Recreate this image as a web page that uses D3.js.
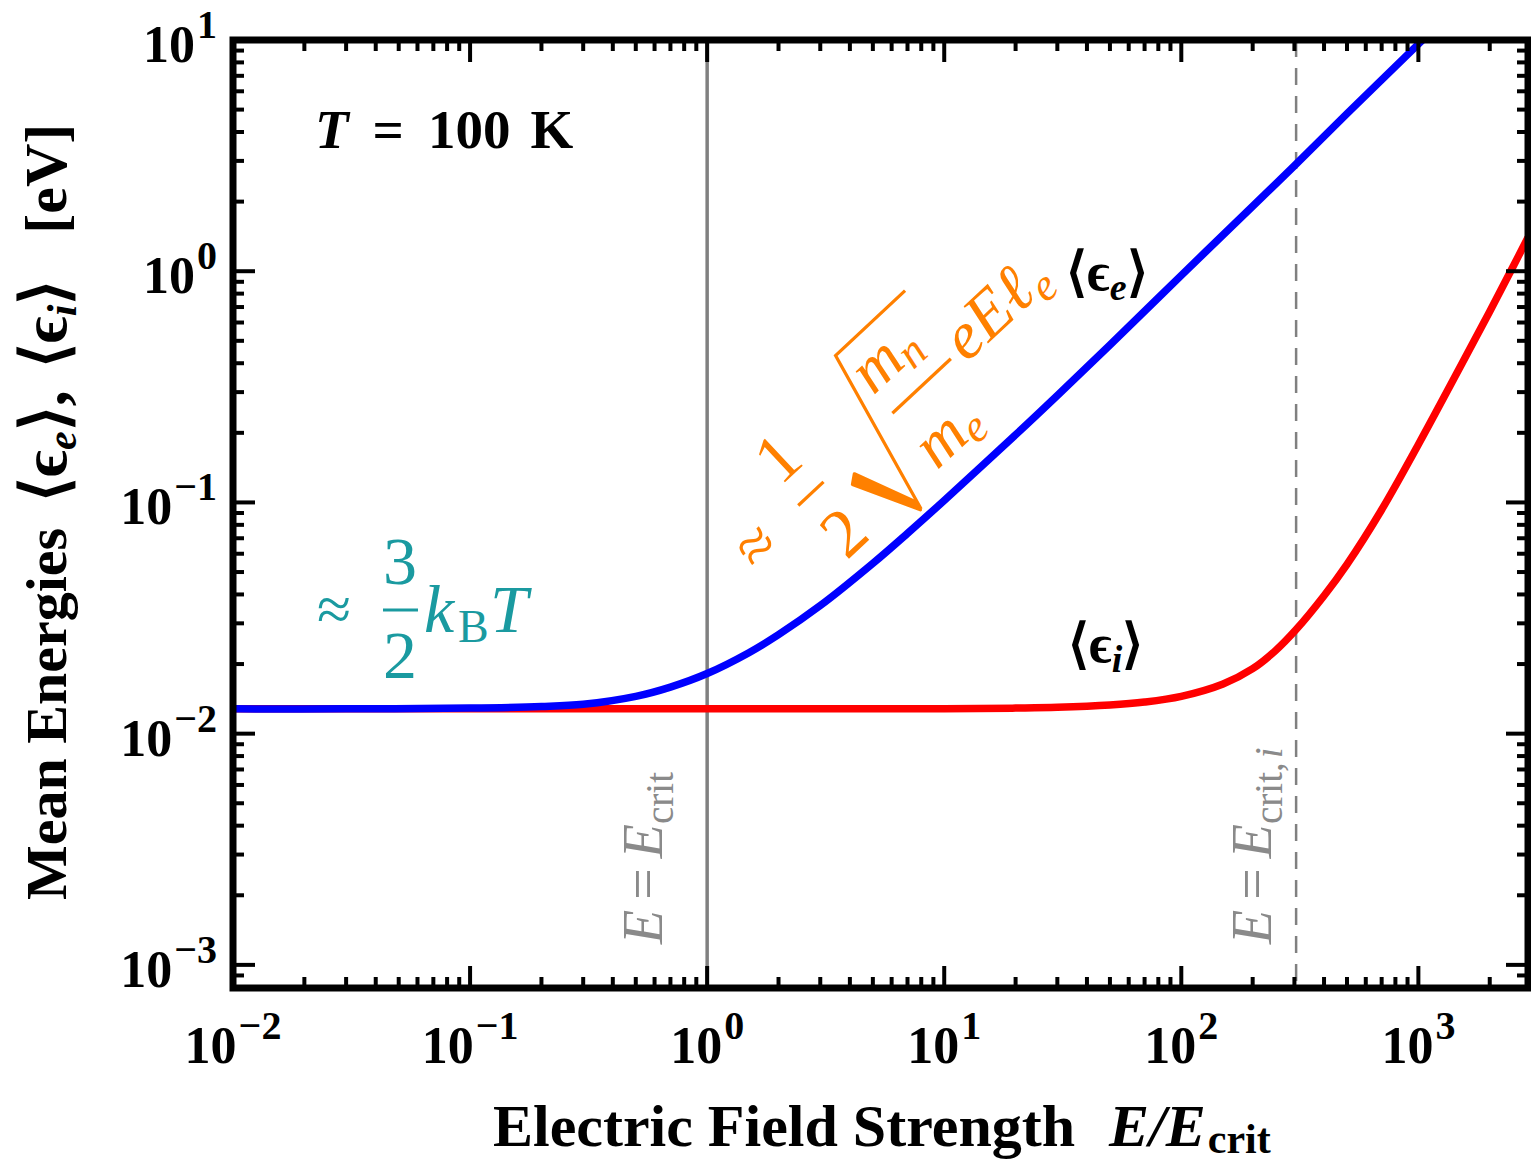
<!DOCTYPE html>
<html>
<head>
<meta charset="utf-8">
<script src="https://cdn.jsdelivr.net/npm/d3@7"></script>
<style>
  body { margin: 0; background: #fff; }
  text { font-family: "Liberation Serif", "Times New Roman", serif; }
</style>
</head>
<body>
<script>
// mean electron energy <eps_e> vs E/Ecrit
var electronField = [0.01, 0.03, 0.1, 0.2, 0.3, 0.5, 0.7, 1, 1.5, 2, 3, 5, 7, 10, 20, 30, 50, 100, 200, 300, 500, 1000, 1100];
var electronEnergy = [0.0128, 0.0128, 0.0129, 0.0131, 0.0134, 0.0145, 0.0159, 0.0182, 0.0224, 0.0268, 0.0358, 0.0545, 0.0735, 0.102, 0.196, 0.29, 0.48, 0.96, 1.91, 2.86, 4.8, 9.6, 10.55];

// mean ion energy <eps_i>
var ionField = [0.01, 1, 10, 20, 30, 50, 70, 100, 150, 200, 250, 305, 400, 500, 700, 1000, 1500, 2000, 2500, 2900];
var ionEnergy = [0.0128, 0.0128, 0.0128, 0.0129, 0.013, 0.0133, 0.0137, 0.0145, 0.0164, 0.0191, 0.0229, 0.0282, 0.0395, 0.054, 0.093, 0.178, 0.385, 0.67, 1.04, 1.40];

var xTickExp = [-2, -1, 0, 1, 2, 3];
var yTickExp = [-3, -2, -1, 0, 1];
var eCrit = 1, eCritIon = 305;

var width = 1531, height = 1162;
var pL = 233, pR = 1528, pT = 40, pB = 988;

var svg = d3.select('body').append('svg')
  .attr('width', width)
  .attr('height', height);

var x = d3.scaleLog().domain([0.01, 2900]).range([pL, pR]);
var y = d3.scaleLog().domain([Math.pow(10, -3.1), 10]).range([pB, pT]);

svg.append('clipPath').attr('id', 'plot')
  .append('rect').attr('x', pL).attr('y', pT)
  .attr('width', pR - pL).attr('height', pB - pT);

// reference lines
svg.append('line')
  .attr('x1', x(eCrit)).attr('x2', x(eCrit))
  .attr('y1', pT).attr('y2', pB)
  .attr('stroke', '#808080').attr('stroke-width', 3.5);

svg.append('line')
  .attr('x1', x(eCritIon)).attr('x2', x(eCritIon))
  .attr('y1', pT).attr('y2', pB)
  .attr('stroke', '#808080').attr('stroke-width', 2.5)
  .attr('stroke-dasharray', '17,11');

function critLabel(xpos, ion) {
  var t = svg.append('text')
    .attr('transform', 'translate(' + xpos + ',' + 944 + ') rotate(-90)')
    .attr('fill', '#8a8a8a')
    .attr('font-size', 56);
  t.append('tspan').attr('font-style', 'italic').text('E');
  t.append('tspan').attr('dx', 10).text('=');
  t.append('tspan').attr('dx', 10).attr('font-style', 'italic').text('E');
  t.append('tspan').attr('font-size', 39).attr('dy', 11).text(ion ? 'crit,' : 'crit');
  if (ion) t.append('tspan').attr('font-size', 39).attr('dx', 4).attr('font-style', 'italic').text('i');
}
critLabel(x(eCrit) - 45, false);
critLabel(x(eCritIon) - 25, true);

// curves
var line = d3.line()
  .x(function(d) { return x(d[0]); })
  .y(function(d) { return y(d[1]); })
  .curve(d3.curveCatmullRom.alpha(0.5));

var curves = svg.append('g').attr('clip-path', 'url(#plot)');

curves.append('path')
  .datum(d3.zip(ionField, ionEnergy))
  .attr('d', line)
  .attr('fill', 'none')
  .attr('stroke', '#ff0000')
  .attr('stroke-width', 7.5);

curves.append('path')
  .datum(d3.zip(electronField, electronEnergy))
  .attr('d', line)
  .attr('fill', 'none')
  .attr('stroke', '#0000ff')
  .attr('stroke-width', 7.5);

// frame and ticks
svg.append('rect')
  .attr('x', pL).attr('y', pT)
  .attr('width', pR - pL).attr('height', pB - pT)
  .attr('fill', 'none').attr('stroke', '#000').attr('stroke-width', 7);

function minors(lo, hi, scale) {
  var out = [];
  for (var d = lo; d <= hi; d++) {
    for (var k = 2; k <= 9; k++) {
      var v = k * Math.pow(10, d);
      var dom = scale.domain();
      if (v > dom[0] && v < dom[1]) out.push(v);
    }
  }
  return out;
}

var xMajor = xTickExp.map(function(e) { return Math.pow(10, e); });
var yMajor = yTickExp.map(function(e) { return Math.pow(10, e); });
var xMinor = minors(-2, 3, x);
var yMinor = minors(-4, 0, y);

var ticks = svg.append('g').attr('stroke', '#000').attr('stroke-width', 4);

function xTicks(vals, len) {
  vals.forEach(function(v) {
    if (x(v) <= pL + 2) return;
    ticks.append('line').attr('x1', x(v)).attr('x2', x(v)).attr('y1', pB).attr('y2', pB - len);
    ticks.append('line').attr('x1', x(v)).attr('x2', x(v)).attr('y1', pT).attr('y2', pT + len);
  });
}
function yTicks(vals, len) {
  vals.forEach(function(v) {
    if (y(v) <= pT + 2) return;
    ticks.append('line').attr('y1', y(v)).attr('y2', y(v)).attr('x1', pL).attr('x2', pL + len);
    ticks.append('line').attr('y1', y(v)).attr('y2', y(v)).attr('x1', pR).attr('x2', pR - len);
  });
}
xTicks(xMajor, 22);
xTicks(xMinor, 11);
yTicks(yMajor, 22);
yTicks(yMinor, 11);

function expText(sel, e) {
  sel.append('tspan').text('10');
  sel.append('tspan').attr('font-size', 40).attr('dy', -24).attr('dx', 2)
    .text(e < 0 ? '\u2212' + (-e) : String(e));
}

xTickExp.forEach(function(e) {
  var t = svg.append('text')
    .attr('x', x(Math.pow(10, e)))
    .attr('y', 1063)
    .attr('text-anchor', 'middle')
    .attr('font-weight', 'bold')
    .attr('font-size', 52);
  expText(t, e);
});

yTickExp.forEach(function(e) {
  var t = svg.append('text')
    .attr('x', 217)
    .attr('y', y(Math.pow(10, e)) + 22)
    .attr('text-anchor', 'end')
    .attr('font-weight', 'bold')
    .attr('font-size', 52);
  expText(t, e);
});

// axis titles
var xt = svg.append('text')
  .attr('x', 493).attr('y', 1146)
  .attr('font-weight', 'bold').attr('font-size', 60);
xt.append('tspan').text('Electric Field Strength');
xt.append('tspan').attr('dx', 34).attr('font-style', 'italic').text('E/E');
xt.append('tspan').attr('font-size', 42).attr('dy', 7).attr('dx', 2).text('crit');

var yt = svg.append('text')
  .attr('transform', 'translate(66,900) rotate(-90)')
  .attr('font-weight', 'bold').attr('font-size', 58);
yt.append('tspan').text('Mean Energies');
yt.append('tspan').attr('dx', 26).attr('font-size', 64).text('\u27e8\u03f5');
yt.append('tspan').attr('font-size', 42).attr('dy', 10).attr('font-style', 'italic').text('e');
yt.append('tspan').attr('dy', -10).attr('font-size', 64).text('\u27e9,');
yt.append('tspan').attr('dx', 22).attr('font-size', 64).text('\u27e8\u03f5');
yt.append('tspan').attr('font-size', 42).attr('dy', 10).attr('font-style', 'italic').text('i');
yt.append('tspan').attr('dy', -10).attr('font-size', 64).text('\u27e9');
yt.append('tspan').attr('dx', 46).attr('font-size', 60).text('[eV]');

// temperature
var tt = svg.append('text')
  .attr('x', 315).attr('y', 148)
  .attr('font-weight', 'bold').attr('font-size', 55);
tt.append('tspan').attr('font-style', 'italic').text('T');
tt.append('tspan').attr('dx', 24).text('=');
tt.append('tspan').attr('dx', 24).text('100');
tt.append('tspan').attr('dx', 20).text('K');

// curve labels
function bracketLabel(xpos, ypos, sub) {
  var t = svg.append('text')
    .attr('x', xpos).attr('y', ypos)
    .attr('font-family', '"DejaVu Sans", sans-serif')
    .attr('font-weight', 'bold').attr('font-size', 54);
  t.append('tspan').text('\u27e8');
  t.append('tspan').text('\u03f5');
  t.append('tspan').attr('font-size', 38).attr('dy', 10).attr('font-style', 'italic').text(sub);
  t.append('tspan').attr('dy', -10).text('\u27e9');
}
bracketLabel(1066, 290, 'e');
bracketLabel(1068, 662, 'i');

// thermal limit  ~ 3/2 kB T
var teal = '#1a9aa0';
var th = svg.append('g').attr('fill', teal);
th.append('text').attr('x', 334).attr('y', 630).attr('text-anchor', 'middle').attr('font-size', 62).text('\u2248');
th.append('text').attr('x', 400).attr('y', 584).attr('text-anchor', 'middle').attr('font-size', 68).text('3');
th.append('line').attr('x1', 383).attr('x2', 418).attr('y1', 610).attr('y2', 610).attr('stroke', teal).attr('stroke-width', 3);
th.append('text').attr('x', 400).attr('y', 678).attr('text-anchor', 'middle').attr('font-size', 68).text('2');
th.append('text').attr('x', 424).attr('y', 632).attr('font-size', 68).attr('font-style', 'italic').text('k');
th.append('text').attr('x', 458).attr('y', 642).attr('font-size', 46).text('B');
th.append('text').attr('x', 490).attr('y', 632).attr('font-size', 68).attr('font-style', 'italic').text('T');

// high field limit  ~ 1/2 sqrt(mn/me) e E l_e
var orange = '#ff8000';
var hf = svg.append('g')
  .attr('transform', 'translate(760,550) rotate(-43) scale(1.08)')
  .attr('fill', orange);
hf.append('text').attr('x', 0).attr('y', 14).attr('text-anchor', 'middle').attr('font-size', 60).text('\u2248');
hf.append('text').attr('x', 70).attr('y', -30).attr('text-anchor', 'middle').attr('font-size', 64).text('1');
hf.append('line').attr('x1', 54).attr('x2', 86).attr('y1', -6).attr('y2', -6).attr('stroke', orange).attr('stroke-width', 3);
hf.append('text').attr('x', 68).attr('y', 62).attr('text-anchor', 'middle').attr('font-size', 64).text('2');
hf.append('path')
  .attr('d', 'M104,14 L112,8 L136,66 L134,74 Z')
  .attr('stroke', orange).attr('stroke-width', 3).attr('stroke-linejoin', 'round');
hf.append('path')
  .attr('d', 'M135,74 L174,-84 L262,-84')
  .attr('fill', 'none').attr('stroke', orange).attr('stroke-width', 3);
var mn = hf.append('text').attr('x', 174).attr('y', -33).attr('font-size', 60).attr('font-style', 'italic');
mn.append('tspan').text('m');
mn.append('tspan').attr('font-size', 42).attr('dy', 8).text('n');
hf.append('line').attr('x1', 176).attr('x2', 250).attr('y1', -9).attr('y2', -9).attr('stroke', orange).attr('stroke-width', 3);
var me = hf.append('text').attr('x', 170).attr('y', 58).attr('font-size', 60).attr('font-style', 'italic');
me.append('tspan').text('m');
me.append('tspan').attr('font-size', 42).attr('dy', 8).text('e');
var ee = hf.append('text').attr('x', 258).attr('y', 4).attr('font-size', 62).attr('font-style', 'italic');
ee.append('tspan').text('eE\u2113');
ee.append('tspan').attr('font-size', 42).attr('dy', 10).text('e');
</script>
</body>
</html>
